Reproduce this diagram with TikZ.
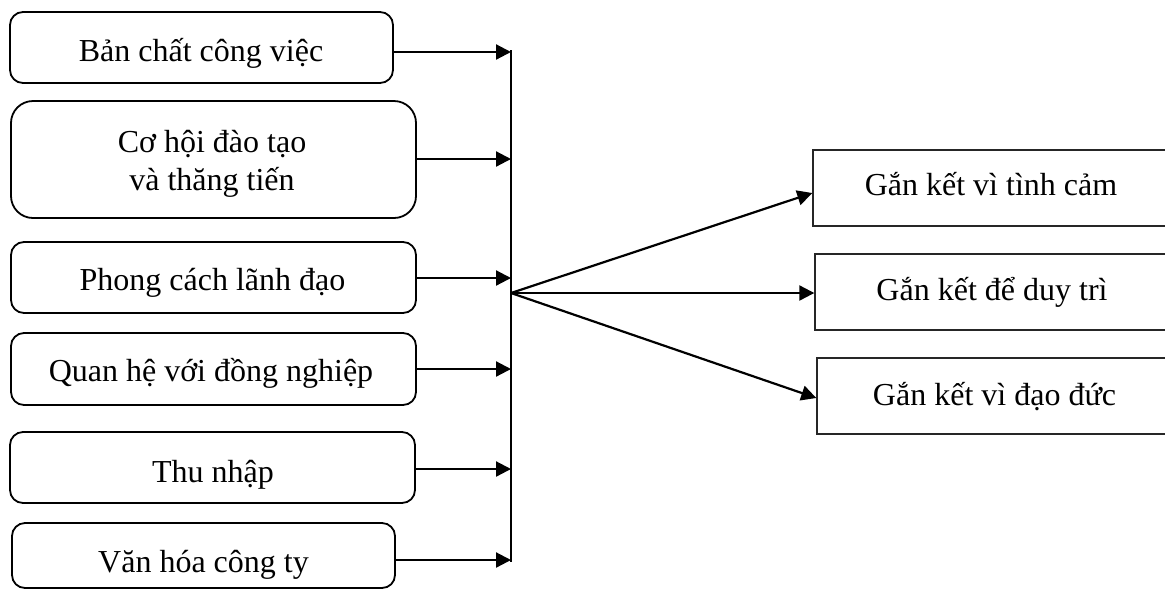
\documentclass[tikz,border=0pt]{standalone}
\usepackage{fontspec}
\setmainfont{Liberation Serif}
\usetikzlibrary{arrows.meta}
\begin{document}
\begin{tikzpicture}[x=0.5pt,y=-0.5pt,
  lbox/.style={draw, line width=0.9pt, rounded corners=6.5pt, inner sep=0pt},
  rbox/.style={draw, line width=0.7pt, draw=black!85, inner sep=0pt},
  txt/.style={anchor=base, inner sep=0pt, font=\fontsize{16}{19}\selectfont},
  arr/.style={line width=1.1pt, -{Triangle[length=7.5pt,width=7.5pt]}},
  ln/.style={line width=1.1pt}]
\useasboundingbox (0,0) rectangle (1165,590);
% left boxes
\node[lbox, minimum width=191.5pt, minimum height=35.5pt] (b1) at (201.5,47.5) {};
\node[lbox, rounded corners=11pt, minimum width=202.5pt, minimum height=58.5pt] (b2) at (213.5,159.5) {};
\node[lbox, minimum width=202.5pt, minimum height=35.5pt] (b3) at (213.5,277.5) {};
\node[lbox, minimum width=202.5pt, minimum height=36pt] (b4) at (213.5,369) {};
\node[lbox, minimum width=202.5pt, minimum height=35.5pt] (b5) at (212.5,467.5) {};
\node[lbox, minimum width=191.5pt, minimum height=32.5pt] (b6) at (203.5,555.5) {};
\node[txt] (t1) at (201,61) {Bản chất công việc};
\node[txt] (t2a) at (212,152) {Cơ hội đào tạo};
\node[txt] (t2b) at (212,190) {và thăng tiến};
\node[txt] (t3) at (212.5,290) {Phong cách lãnh đạo};
\node[txt] (t4) at (211,381) {Quan hệ với đồng nghiệp};
\node[txt] (t5) at (213,482) {Thu nhập};
\node[txt] (t6) at (203.5,572) {Văn hóa công ty};
% right boxes
\node[rbox, minimum width=178.5pt, minimum height=38pt] (r1) at (991.5,188) {};
\node[rbox, minimum width=178.5pt, minimum height=38pt] (r2) at (993.5,292) {};
\node[rbox, minimum width=178.5pt, minimum height=38pt] (r3) at (995.5,396) {};
\node[txt] (s1) at (991,195) {Gắn kết vì tình cảm};
\node[txt] (s2) at (992,300) {Gắn kết để duy trì};
\node[txt] (s3) at (994.5,405) {Gắn kết vì đạo đức};
% junction points
\coordinate (j1) at (511,52);
\coordinate (j2) at (511,159);
\coordinate (j3) at (511,278);
\coordinate (j4) at (511,369);
\coordinate (j5) at (511,469);
\coordinate (j6) at (511,560);
\coordinate (top) at (511,50);
\coordinate (bot) at (511,562);
\coordinate (hub) at (511,293);
\draw[ln] (top) -- (bot);
\foreach \i in {1,...,6} {
  \draw[arr] (b\i.east |- j\i) -- (j\i);
}
\draw[arr] (hub) -- ([yshift=-2.5pt]r1.west);
\draw[arr] (hub) -- ([yshift=-0.5pt]r2.west);
\draw[arr] (hub) -- ([yshift=-1pt]r3.west);
\end{tikzpicture}
\end{document}
